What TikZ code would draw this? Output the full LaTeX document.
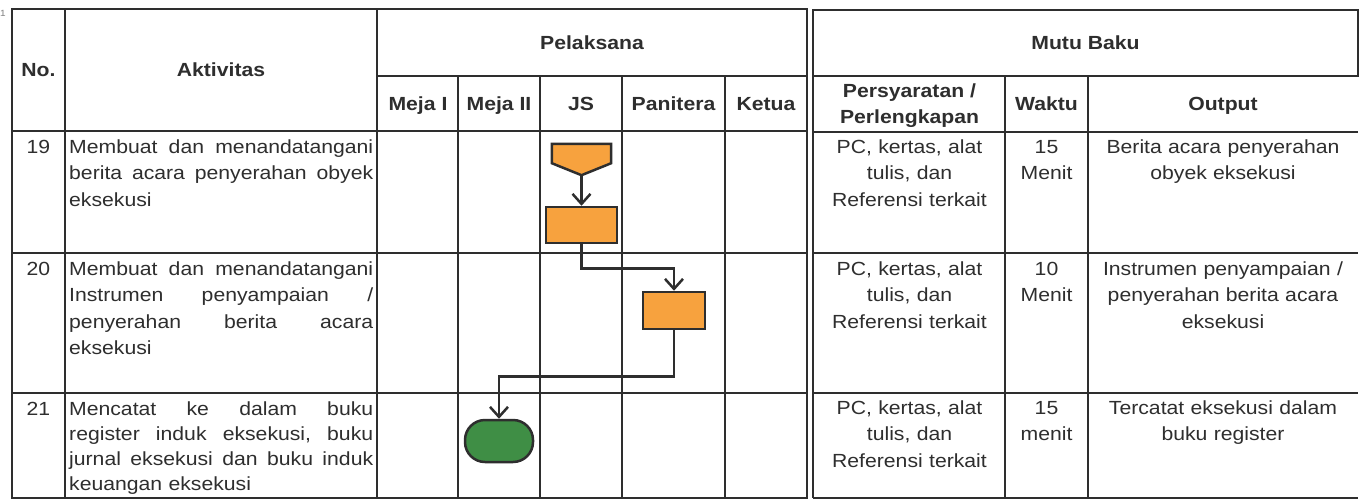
\documentclass[tikz,border=0pt]{standalone}
\usepackage{fontspec}
\setmainfont{Liberation Sans}[FakeStretch=1.115]
\usetikzlibrary{arrows.meta,calc}
\definecolor{ln}{HTML}{2E2E2E}
\definecolor{org}{HTML}{F7A23E}
\definecolor{grn}{HTML}{3F8E45}
\newcommand{\fsz}{\fontsize{19}{26.5}\selectfont}
\newcommand{\fszb}{\fontsize{19}{25.2}\selectfont}
\newcommand{\jl}[1]{\leavevmode\hbox to 304pt{#1}}
\tikzset{
  grid/.style={line width=2pt, draw=ln},
  heavy/.style={line width=2.8pt, draw=ln},
  hd/.style={font=\fsz\bfseries, anchor=base, inner sep=0pt, text=ln},
  txt/.style={font=\fsz, align=center, anchor=north, inner sep=0pt, text=ln},
  act/.style={font=\fsz, text width=306pt, align=left, anchor=north west, inner sep=0pt, text=ln},
  proc/.style={draw=ln, fill=org, line width=2.5pt, minimum width=71pt, minimum height=36pt, inner sep=0pt},
  term/.style={draw=ln, fill=grn, line width=2.5pt, minimum width=68pt, minimum height=42pt, rounded corners=20pt, inner sep=0pt},
  flow/.style={draw=ln, line width=2.5pt, -{Straight Barb[length=10pt,width=18pt]}},
}
\begin{document}
\begin{tikzpicture}[x=1pt,y=-1pt]
\useasboundingbox (0,0) rectangle (1363,501);
\fill[white] (0,0) rectangle (1363,501);

% left table grid
\draw[heavy] (12,9) rectangle (807,498);
\draw[grid] (65,9) -- (65,498);
\draw[grid] (377,9) -- (377,498);
\draw[grid] (377,76) -- (807,76);
\foreach \x in {458,540,622,725} \draw[grid] (\x,76) -- (\x,498);
\draw[heavy] (12,131) -- (807,131);
\foreach \y in {253,393} \draw[grid] (12,\y) -- (807,\y);

% right table grid
\draw[heavy] (813,10) rectangle (1358,76);
\draw[grid] (813,76) -- (813,498);
\draw[heavy] (813,132) -- (1358,132);
\foreach \x in {1005,1088} \draw[grid] (\x,76) -- (\x,498);
\foreach \y in {253,393} \draw[grid] (813,\y) -- (1358,\y);
\draw[grid] (813,498) -- (1358,498);

% page mark
\node[font=\fontsize{9}{10}\selectfont, text=gray, inner sep=0pt] (pg) at (3,13) {1};

% headers
\node[hd] (hno) at (38.5,76.8) {No.};
\node[hd] (hakt) at (221,76.8) {Aktivitas};
\node[hd] (hpel) at (592,49.8) {Pelaksana};
\node[hd] (hm1) at (418,110.8) {Meja I};
\node[hd] (hm2) at (499,110.8) {Meja II};
\node[hd] (hjs) at (581,110.8) {JS};
\node[hd] (hpan) at (673.5,110.8) {Panitera};
\node[hd] (hket) at (766,110.8) {Ketua};
\node[hd] (hmutu) at (1085.5,49.8) {Mutu Baku};
\node[hd] (hper1) at (909.5,97.8) {Persyaratan /};
\node[hd] (hper2) at (909.5,123.8) {Perlengkapan};
\node[hd] (hwak) at (1046.5,110.8) {Waktu};
\node[hd] (hout) at (1223,110.8) {Output};

% row 19
\node[txt] (n19) at (38.5,134.7) {\strut 19};
\node[act] (a19) at (69,134.7) {\strut\jl{Membuat\hfill dan\hfill menandatangani}\\\jl{berita\hfill acara\hfill penyerahan\hfill obyek}\\eksekusi};
\node[txt, text width=190pt] (p19) at (909.5,134.7) {\strut PC, kertas, alat\\tulis, dan\\Referensi terkait};
\node[txt, text width=80pt] (w19) at (1046.5,134.7) {\strut 15\\Menit};
\node[txt, text width=268pt] (o19) at (1223,134.7) {\strut Berita acara penyerahan\\obyek eksekusi};

% row 20
\node[txt] (n20) at (38.5,256.7) {\strut 20};
\node[act] (a20) at (69,256.7) {\strut\jl{Membuat\hfill dan\hfill menandatangani}\\\jl{Instrumen\hfill penyampaian\hfill /}\\\jl{penyerahan\hfill berita\hfill acara}\\eksekusi};
\node[txt, text width=190pt] (p20) at (909.5,256.7) {\strut PC, kertas, alat\\tulis, dan\\Referensi terkait};
\node[txt, text width=80pt] (w20) at (1046.5,256.7) {\strut 10\\Menit};
\node[txt, text width=268pt] (o20) at (1223,256.7) {\strut Instrumen penyampaian /\\penyerahan berita acara\\eksekusi};

% row 21
\node[txt] (n21) at (38.5,396.7) {\strut 21};
\node[act, font=\fszb] (a21) at (69,397.4) {\strut\jl{Mencatat\hfill ke\hfill dalam\hfill buku}\\\jl{register\hfill induk\hfill eksekusi,\hfill buku}\\\jl{jurnal\hfill eksekusi\hfill dan\hfill buku\hfill induk}\\keuangan eksekusi};
\node[txt, text width=190pt] (p21) at (909.5,395.7) {\strut PC, kertas, alat\\tulis, dan\\Referensi terkait};
\node[txt, text width=80pt] (w21) at (1046.5,395.7) {\strut 15\\menit};
\node[txt, text width=268pt] (o21) at (1223,395.7) {\strut Tercatat eksekusi dalam\\buku register};

% flow shapes
\node[inner sep=0pt, minimum width=59pt, minimum height=31pt] (off) at (581.5,159.5) {};
\draw[draw=ln, fill=org, line width=2.5pt, line join=miter]
  (off.north west) -- (off.north east) -- ($(off.south east)+(0,-12)$)
  -- (off.south) -- ($(off.south west)+(0,-12)$) -- cycle;
\node[proc] (r1) at (581.5,225) {};
\node[proc, minimum width=62pt, minimum height=37pt] (r2) at (674,310.5) {};
\node[term] (t1) at (499,441) {};

\draw[flow] (off.south) -- (r1.north);
\draw[flow] (r1.south) -- ++(0,24) -| (r2.north);
\draw[flow] (r2.south) -- ++(0,46) -| (t1.north);
\end{tikzpicture}
\end{document}
